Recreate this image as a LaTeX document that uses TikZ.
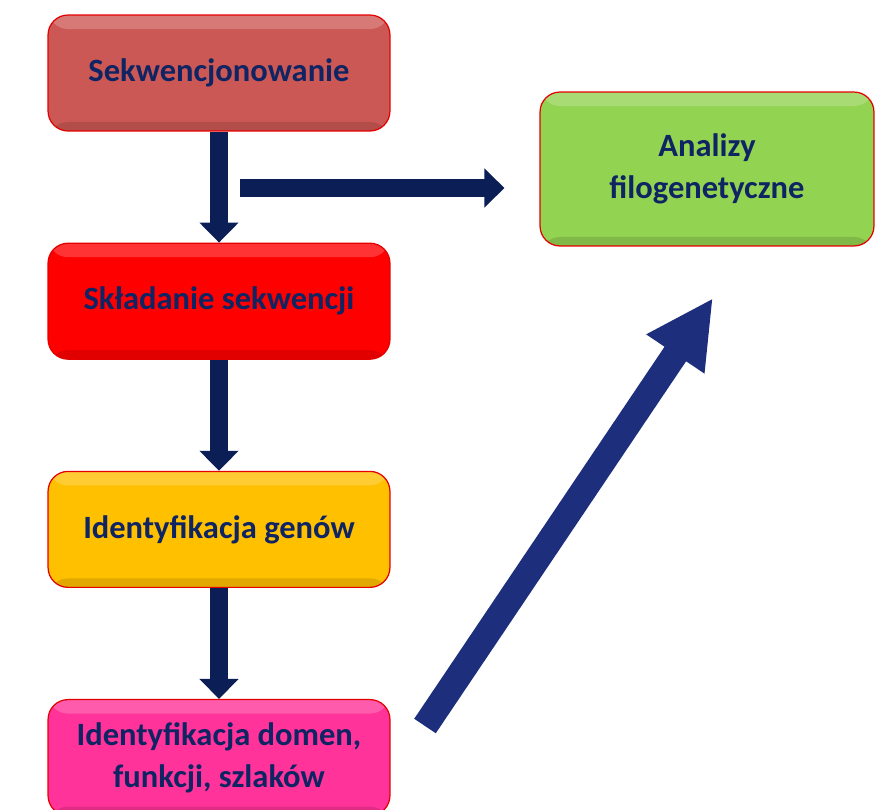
\documentclass[tikz,border=0pt]{standalone}
\usepackage{fontspec}
\setmainfont{Carlito}
\usetikzlibrary{arrows.meta,positioning,calc}

\definecolor{textnavy}{HTML}{0F2463}
\definecolor{arrownavy}{HTML}{0B1E55}
\definecolor{diagblue}{HTML}{1D2F7C}
\definecolor{seqred}{HTML}{CC5855}
\definecolor{assemred}{HTML}{FF0000}
\definecolor{genegold}{HTML}{FFC000}
\definecolor{domenpink}{HTML}{FF3399}
\definecolor{phylogreen}{HTML}{93D352}

\begin{document}
\begin{tikzpicture}[x=0.02cm, y=-0.02cm,
    stagebox/.style={rounded corners=0.4cm, draw=red!90!black, line width=0.7pt,
      fill=#1, minimum width=6.84cm, minimum height=2.32cm, align=center,
      text=textnavy, font=\bfseries\fontsize{18.5}{24}\selectfont,
      path picture={
        \fill[white, opacity=0.2] (path picture bounding box.north west)
          rectangle ([yshift=-0.28cm]path picture bounding box.north east);
        \fill[black, opacity=0.12] ([yshift=0.18cm]path picture bounding box.south west)
          rectangle (path picture bounding box.south east);
      }},
    flowarrow/.style={draw=arrownavy, line width=0.36cm,
      -{Triangle[width=0.76cm, length=0.4cm]}},
    bigarrow/.style={draw=diagblue, line width=0.52cm,
      -{Triangle[width=1.3cm, length=1.35cm]}}]
    \useasboundingbox (0,0) rectangle (875,809);

    % Nodes
    \node[stagebox=seqred] (seq) at (219,73) {Sekwencjonowanie};
    \node[stagebox=assemred, below=2.22cm of seq] (assem) {Składanie sekwencji};
    \node[stagebox=genegold, below=2.22cm of assem] (genes) {Identyfikacja genów};
    \node[stagebox=domenpink, below=2.22cm of genes] (domains) {Identyfikacja domen,\\funkcji, szlaków};
    \node[stagebox=phylogreen, minimum width=6.68cm, minimum height=3.08cm] (phylo) at (707,169) {Analizy\\filogenetyczne};

    % Edges
    \draw[flowarrow] (seq) -- (assem);
    \draw[flowarrow] (assem) -- (genes);
    \draw[flowarrow] (genes) -- (domains);

    % Branch to the phylogenetic analyses
    \coordinate (branch) at (240,188);
    \draw[flowarrow, shorten >=0.7cm] (branch) -- (branch -| phylo.west);

    % Big diagonal arrow
    \coordinate (tail) at (425,726);
    \coordinate (tip) at (713,298);
    \draw[bigarrow] (tail) -- (tip);
  \end{tikzpicture}
\end{document}
